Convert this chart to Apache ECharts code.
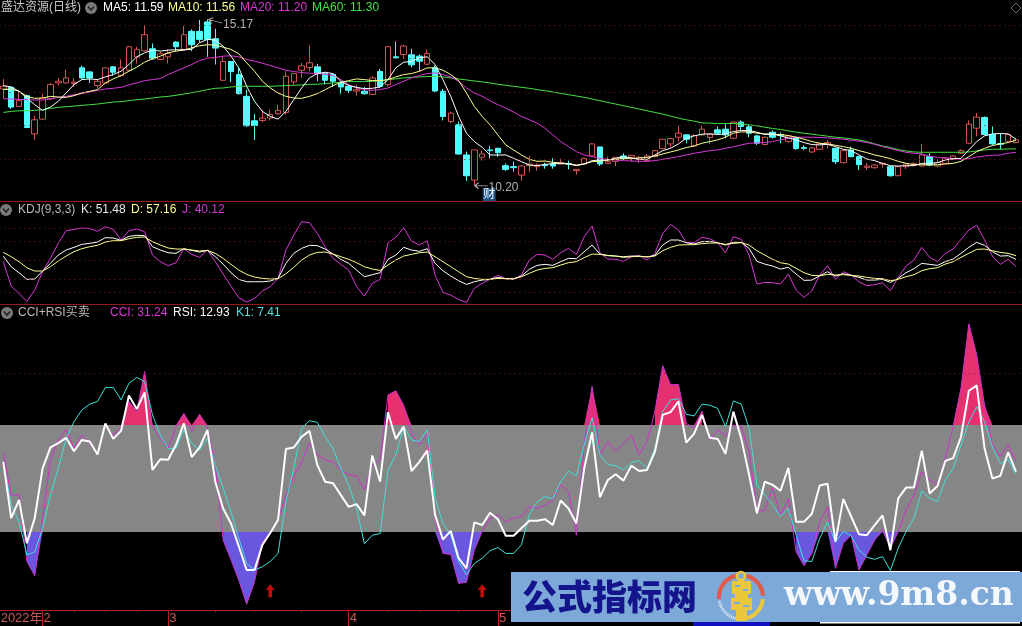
<!DOCTYPE html>
<html>
<head>
    <meta charset="utf-8"/>
    <title>盛达资源(日线)</title>
    <script src="https://cdn.jsdelivr.net/npm/echarts@6/dist/echarts.min.js"></script>
    <style>
        html,body{margin:0;padding:0;background:#000;overflow:hidden}
        #main{width:1022px;height:626px}
    </style>
</head>
<body>
<div id="main"></div>
<script type="text/javascript">
var opens = [13.09,13.14,12.57,12.89,11.75,12.19,12.80,13.27,13.27,13.25,
13.72,13.60,13.19,13.27,13.75,13.49,13.65,14.04,14.23,14.29,
13.97,14.05,14.49,14.27,14.81,14.81,15.09,14.59,13.35,13.91,
13.52,12.87,12.14,12.15,12.22,12.35,12.39,13.30,13.65,13.73,
13.75,13.55,13.52,13.27,13.17,13.03,13.02,12.93,13.61,13.22,
14.05,14.12,14.11,14.07,13.83,13.72,13.02,12.12,12.02,11.12,
10.37,11.05,11.27,11.32,10.80,10.77,10.52,10.80,10.77,10.82,
10.85,10.85,10.86,10.65,10.85,11.09,11.36,10.87,10.93,11.09,
11.05,10.99,10.95,11.07,11.31,11.45,11.65,11.72,11.39,11.72,
11.64,11.87,11.89,11.62,12.10,11.96,11.69,11.43,11.80,11.73,
11.52,11.64,11.34,11.21,11.29,11.43,11.32,10.89,11.27,11.07,
10.75,10.74,10.85,10.77,10.50,10.77,10.83,10.79,11.07,10.79,
10.87,10.99,11.17,11.47,11.92,12.24,11.73,11.46,11.53,11.49];
var closes = [13.17,12.55,12.74,11.94,12.17,12.82,13.22,13.32,13.42,13.29,
13.42,13.42,13.32,13.72,13.59,13.72,14.35,14.27,14.71,13.99,
14.14,14.15,14.35,14.71,14.41,14.57,14.57,14.31,13.91,13.61,
12.95,11.99,12.00,12.22,12.33,12.45,13.47,13.55,13.78,13.87,
13.55,13.35,13.32,13.15,13.05,13.07,12.95,13.42,13.17,14.35,
14.02,14.37,13.81,13.92,14.15,13.03,12.27,12.37,11.15,10.50,
11.27,11.15,11.25,11.19,10.69,10.74,10.79,10.85,10.82,10.80,
10.79,10.89,10.85,10.69,11.02,11.45,10.85,10.92,11.05,11.01,
11.11,11.05,11.09,11.25,11.59,11.61,11.77,11.59,11.70,11.89,
11.74,11.77,11.72,12.10,11.97,11.77,11.47,11.65,11.65,11.71,
11.69,11.31,11.32,11.33,11.45,11.49,10.92,11.25,11.07,10.83,
10.79,10.82,10.87,10.50,10.77,10.85,10.87,11.12,10.82,10.89,
11.03,11.09,11.25,12.04,12.25,11.73,11.45,11.44,11.73,11.57];
var highs = [13.39,13.17,13.02,12.92,12.29,12.95,13.27,13.42,13.67,13.42,
13.79,13.62,13.39,13.72,13.77,13.97,14.37,14.35,14.99,14.45,
14.19,14.27,14.51,14.97,14.87,15.15,15.17,14.89,14.07,13.92,
13.72,13.07,12.34,12.47,12.47,12.62,13.62,13.57,13.87,14.39,
13.84,13.57,13.55,13.32,13.22,13.22,13.15,13.47,13.69,14.37,
14.51,14.41,14.29,14.12,14.27,13.79,13.09,12.41,12.12,11.22,
11.27,11.25,11.39,11.33,10.87,10.92,10.81,11.09,10.87,10.89,
11.02,11.01,10.95,10.69,11.02,11.47,11.37,11.07,11.05,11.17,
11.12,11.09,11.15,11.27,11.60,11.63,11.99,11.74,11.74,11.99,
11.77,11.97,12.05,12.12,12.15,12.02,11.72,11.67,11.85,11.79,
11.72,11.67,11.41,11.37,11.49,11.57,11.34,11.27,11.37,11.09,
10.89,10.85,10.89,10.79,10.79,10.87,10.89,11.45,11.17,10.99,
11.05,11.11,11.29,12.15,12.37,12.27,11.97,11.77,11.75,11.61];
var lows = [12.82,12.49,12.55,11.92,11.57,12.17,12.77,13.19,13.25,13.15,
13.39,13.27,13.12,13.25,13.49,13.45,13.63,13.85,14.21,13.97,
13.95,13.85,14.22,14.25,14.22,14.49,14.05,13.82,13.33,13.29,
12.92,11.97,11.57,12.09,12.15,12.32,12.32,13.22,13.42,13.62,
13.32,13.22,13.15,12.95,12.97,12.89,12.92,12.91,13.12,13.17,
13.99,13.99,13.73,13.62,13.81,12.99,12.15,12.07,11.12,10.35,
10.20,10.95,11.02,11.07,10.64,10.62,10.35,10.61,10.65,10.71,
10.71,10.83,10.69,10.53,10.82,11.07,10.79,10.85,10.79,10.97,
10.92,10.89,10.91,11.05,11.29,11.35,11.52,11.47,11.37,11.70,
11.44,11.75,11.62,11.60,11.85,11.65,11.42,11.41,11.61,11.47,
11.49,11.27,11.27,11.19,11.27,11.32,10.85,10.87,11.05,10.67,
10.67,10.71,10.74,10.47,10.49,10.70,10.79,10.77,10.79,10.75,
10.85,10.97,11.15,11.45,11.67,11.71,11.42,11.29,11.49,11.47];

var ma5 = [13.19,13.15,13.02,12.82,12.62,12.45,12.55,12.72,12.97,13.22,13.37,13.39,13.37,13.45,13.52,13.62,13.82,14.05,14.17,14.25,14.22,14.25,14.26,14.26,14.27,14.47,14.57,14.55,14.37,14.07,13.72,13.17,12.72,12.42,12.27,12.19,12.42,12.77,13.12,13.42,13.55,13.59,13.55,
13.32,13.19,13.14,13.10,13.11,13.15,13.37,13.72,13.89,13.91,14.02,14.05,13.82,13.37,12.87,12.27,11.77,11.52,11.35,11.12,11.12,11.12,11.02,10.92,10.82,10.80,10.84,10.86,10.87,10.85,10.80,10.85,10.95,10.97,10.97,11.02,11.07,11.03,10.99,10.99,11.12,11.25,11.32,11.45,
11.62,11.69,11.74,11.75,11.73,11.75,11.82,11.85,11.85,11.80,11.73,11.75,11.69,11.63,11.57,11.49,11.43,11.42,11.44,11.37,11.29,11.25,11.12,11.00,10.95,10.87,10.80,10.79,10.80,10.80,10.87,10.87,10.89,10.97,11.01,11.02,11.27,11.52,11.69,11.75,11.76,11.75,11.59];
var ma10 = [13.07,13.09,13.02,12.87,12.81,12.82,12.87,12.85,12.84,12.89,12.97,13.02,13.07,13.27,13.39,13.49,13.62,13.74,13.89,13.99,14.07,14.17,14.22,14.25,14.32,14.38,14.41,14.40,14.34,14.27,14.14,13.87,13.62,13.32,13.12,12.97,12.87,12.82,12.81,12.87,12.95,13.07,13.19,
13.29,13.34,13.39,13.37,13.34,13.34,13.37,13.45,13.52,13.55,13.62,13.72,13.72,13.65,13.52,13.34,12.97,12.57,12.27,12.02,11.72,11.42,11.27,11.12,10.99,10.93,10.94,10.90,10.88,10.86,10.82,10.85,10.92,10.93,10.97,10.99,11.01,11.01,11.03,11.05,11.09,11.15,11.21,11.27,
11.34,11.39,11.47,11.52,11.57,11.65,11.77,11.81,11.81,11.77,11.75,11.74,11.73,11.70,11.65,11.59,11.52,11.47,11.45,11.41,11.37,11.32,11.25,11.19,11.12,11.07,11.01,10.93,10.87,10.83,10.83,10.82,10.83,10.85,10.87,10.93,11.07,11.22,11.32,11.40,11.45,11.49,11.56];
var ma20 = [12.80,12.79,12.78,12.77,12.76,12.76,12.79,12.84,12.87,12.92,12.95,13.00,13.05,13.09,13.11,13.14,13.21,13.27,13.34,13.37,13.40,13.52,13.62,13.72,13.82,13.94,14.01,14.03,14.07,14.08,14.05,13.97,13.92,13.86,13.79,13.72,13.65,13.61,13.58,13.56,13.55,13.53,13.49,
13.37,13.22,13.12,13.07,13.05,13.07,13.12,13.22,13.32,13.42,13.49,13.55,13.57,13.52,13.45,13.32,13.12,12.97,12.87,12.74,12.62,12.52,12.40,12.27,12.17,12.07,11.92,11.72,11.52,11.37,11.22,11.12,11.07,11.02,10.99,10.97,10.95,10.94,10.93,10.93,10.95,10.99,11.03,11.07,
11.12,11.17,11.21,11.25,11.27,11.32,11.36,11.42,11.47,11.48,11.49,11.52,11.57,11.62,11.65,11.65,11.65,11.64,11.63,11.61,11.59,11.56,11.53,11.49,11.44,11.37,11.31,11.25,11.20,11.17,11.15,11.08,11.05,11.03,11.01,10.99,11.01,11.06,11.09,11.11,11.12,11.17,11.20];
var ma60 = [12.39,12.42,12.44,12.44,12.45,12.47,12.51,12.54,12.56,12.58,12.60,12.62,12.64,12.67,12.70,12.71,12.74,12.77,12.79,12.82,12.85,12.87,12.90,12.94,12.98,13.02,13.07,13.11,13.12,13.15,13.17,13.17,13.17,13.17,13.17,13.18,13.19,13.20,13.21,13.23,13.23,13.25,13.27,
13.29,13.31,13.31,13.31,13.32,13.33,13.37,13.39,13.42,13.44,13.45,13.46,13.47,13.45,13.42,13.39,13.36,13.33,13.30,13.27,13.23,13.20,13.17,13.14,13.11,13.07,13.04,13.00,12.96,12.92,12.88,12.84,12.79,12.74,12.69,12.64,12.59,12.54,12.49,12.44,12.39,12.34,12.28,12.22,
12.17,12.13,12.08,12.07,12.06,12.06,12.06,12.05,12.02,11.99,11.95,11.91,11.88,11.84,11.80,11.77,11.74,11.71,11.68,11.65,11.63,11.60,11.57,11.52,11.45,11.39,11.34,11.28,11.24,11.21,11.20,11.20,11.20,11.20,11.20,11.20,11.21,11.24,11.27,11.29,11.29,11.30,11.30];

var kdjK = [56.5,40,30.7,20.4,20.9,33.3,45.2,58.1,65.9,70,74.6,76.2,78.3,85,84.5,80.8,87,88.6,88.1,71,65.9,61.7,60.7,67.9,65.3,62.7,65.3,55.5,44.1,30.7,20.4,16.7,16.7,16.7,17.8,21.9,45.2,60.7,68.4,73.1,72.6,67.4,59.6,51.4,45.2,34.8,24.5,27.6,30.7,51.4,58.1,70,65.9,63.8,67.9,45.2,33.8,25.5,18.3,12.6,16.7,19.3,20.4,23.5,21.4,20.9,
25.5,35.9,42.1,43.6,42.1,47.8,52.9,52.4,63.3,73.6,59.6,57.1,56.5,55.5,56.5,56.5,55,57.6,73.6,81.4,81.4,77.2,75.2,78.8,79.3,77.2,73.6,77.7,77.7,68.4,48.3,44.1,41,36.4,39,28.6,18.8,19.3,26,32.2,25.5,29.1,26.6,23.5,19.3,19.3,20.4,15.7,21.9,30.7,36.9,45.2,43.6,42.1,47.8,51.9,60.7,70,77.7,73.1,63.3,56.5,57.1,51.48];
var kdjD = [62.2,55.5,47.8,38.4,33.3,33.3,40,48.8,56.5,63.3,67.9,71,73.1,78.3,80.3,80.3,83.4,85.5,86,78.8,73.6,69,67.4,67.4,65.9,64.3,65.3,60.7,52.9,43.6,34.8,28.1,24,21.9,20.9,21.4,29.1,39,50.3,58.1,62.2,62.7,59.6,55.5,51.4,46.2,40,36.4,34.3,42.6,50.3,56.5,59.1,61.7,62.7,55.5,47.8,40,32.2,24.5,21.9,20.4,20.4,21.9,21.4,21.4,
24.5,29.7,34.8,37.4,38.4,42.6,46.2,47.8,54,59.6,59.1,57.6,56.5,54.5,55.5,56,55.5,56.5,64.8,70,73.6,74.1,74.1,75.7,76.7,76.7,74.6,76.2,77.2,73.6,64.8,58.1,51.4,46.2,44.1,37.4,30.7,26.6,26,28.1,27.1,27.6,26.6,25.5,23.5,21.9,21.4,18.3,20.4,24.5,27.6,33.8,36.9,38.4,44.1,47.8,54.5,60.7,66.9,67.4,64.8,62.2,60.7,57.16];
var kdjJ = [47.8,10,-1.4,-13.8,3.8,32.2,52.9,76.2,95.8,97.9,100,99.4,94.8,102,97.9,81.4,95.8,98.4,94.3,58.1,47.8,41.6,46.2,67.9,59.1,54.5,65.9,47.8,28.6,10,-8.1,-14.8,-9.1,2.3,9,21.9,65.9,89.1,109.8,108.2,91.7,71,52.9,43.6,34.8,9,-5.5,14.1,20.4,77.2,85.5,100.5,79.8,73.6,80.3,27.1,0.2,-4,-10.7,-15.3,6.4,14.1,20.4,26.6,21.4,20.9,
27.1,50.3,59.1,58.1,51.4,61.7,68.4,59.1,86.5,103.1,61.7,51.9,51.4,48.3,55.5,57,50.3,60.7,91.7,105.7,96.9,77.2,77.2,85.5,83.4,77.2,61.7,86.5,82.4,58.1,13.1,15.7,15.2,13.1,28.6,3.8,-7.6,2.8,27.1,41.6,20.4,32.2,27.1,16.7,10.5,12.1,15.2,2.8,23.5,41,50.3,70,54.5,47.8,60.7,67.4,82.4,96.9,104.1,81.4,56.5,43.6,51.4,40.12];

var cci = [47,-31,-31,-155,-182,-74,35,72,91,56,81,66,44,100,81,97,144,125,200,97,75,56,97,122,88,120,94,25,-115,-152,-190,-235,-193,-121,-100,-77,-31,3,31,66,44,35,31,
16,7,5,-21,25,35,156,164,137,84,63,84,-74,-140,-142,-196,-194,-134,-99,-74,-68,-81,-74,-71,-53,-56,-50,-40,-12,-25,-106,63,172,44,69,50,66,81,44,69,125,211,175,176,
103,94,126,72,91,80,100,97,50,-62,-59,-18,-68,-38,-137,-163,-140,-81,-53,-168,-121,-106,-171,-143,-115,-94,-130,-99,-59,-31,13,-3,-12,38,97,169,289,231,137,63,41,63,31.24];
var rsi = [31,-74,-40,-121,-74,19,58,66,76,51,72,69,45,103,74,89,155,130,161,16,36,35,63,103,40,58,91,-6,-56,-84,-127,-171,-171,-124,-102,-77,55,58,78,89,25,-6,-9,
-31,-53,-48,-69,43,-6,124,74,97,14,31,52,-68,-114,-98,-149,-168,-82,-87,-64,-76,-107,-107,-93,-79,-79,-76,-87,-41,-56,-84,19,86,-35,-3,8,-4,24,14,16,50,119,124,144,
67,84,119,76,74,46,125,75,7,-65,-6,-12,-23,20,-81,-81,-66,-13,-10,-118,-38,-71,-104,-106,-87,-69,-134,-37,-17,-17,52,-28,-14,33,38,78,164,174,56,0,5,49,12.93];
var k1 = [31,-49,-81,-143,-137,-93,-31,19,75,106,128,139,144,170,170,147,178,189,181,119,81,56,56,91,66,53,75,25,-18,-62,-112,-159,-171,-165,-155,-140,-43,19,94,108,105,78,56,
19,-12,-56,-122,-106,-103,16,44,97,72,69,91,-37,-84,-106,-155,-180,-159,-149,-135,-129,-140,-140,-124,-68,-43,-34,-38,-6,14,5,63,114,44,26,24,16,30,33,19,56,125,147,149,
120,117,139,137,131,97,145,139,94,-12,-31,-49,-71,-56,-106,-154,-155,-112,-81,-119,-99,-107,-134,-147,-151,-146,-172,-130,-99,-74,-23,-37,-43,-3,19,63,106,134,106,59,28,35,7.41];

var priceLevels = [11,12,13,14,15];
var kdjLevels = [0,20,50,80,100];
var cciLevels = [197];
var bandHigh = 100;
var bandLow = -100;

var monthIndexes = [5,21,44,63];
var monthLabels = ['2','3','4','5'];
var yearLabel = '2022年';
var minorTickIndexes = [9,13,17,27,32,38,49,53,58];

var signalIndexes = [34,61];
var signalValues = [-210,-210];

var RED = '#d25555', CYAN = '#54fcfc', WHITE = '#ffffff', YELLOW = '#ffff90', PURPLE = '#d838d8', GREEN = '#44e044';
var GRID_LINE = '#7a1a1a', CN_FONT = '"Liberation Sans","Noto Sans CJK SC",sans-serif';

// one empty slot past the last day so panels run off the window's right edge
var days = [];
for (var n = 0; n <= opens.length; n++) { days.push(n); }

var candleData = opens.map(function (o, i) {
    return [o, closes[i], lows[i], highs[i]];
});

function levelLine(levels) {
    return {
        silent: true,
        symbol: 'none',
        label: {show: false},
        lineStyle: {color: GRID_LINE, type: [1, 4], width: 1},
        data: levels.map(function (v) { return {yAxis: v}; })
    };
}

function lineSeries(data, color, gridIndex, width, z) {
    return {
        type: 'line',
        data: data,
        xAxisIndex: gridIndex,
        yAxisIndex: gridIndex,
        symbol: 'none',
        silent: true,
        z: z || 4,
        lineStyle: {color: color, width: width || 1}
    };
}

// polygons of cci beyond a level, closed along the level where the line crosses it
function beyondPolygons(api, level, sign) {
    var polygons = [], current = null;
    for (var i = 0; i < cci.length; i++) {
        var out = (cci[i] - level) * sign > 0;
        if (out) {
            if (!current) {
                current = [];
                if (i > 0) {
                    current.push(api.coord([i - 1 + (level - cci[i - 1]) / (cci[i] - cci[i - 1]), level]));
                }
            }
            current.push(api.coord([i, cci[i]]));
        } else if (current) {
            current.push(api.coord([i - 1 + (level - cci[i - 1]) / (cci[i] - cci[i - 1]), level]));
            polygons.push(current);
            current = null;
        }
    }
    return polygons;
}

function renderFill(params, api) {
    var children = [];
    beyondPolygons(api, bandHigh, 1).forEach(function (pts) {
        children.push({type: 'polygon', shape: {points: pts}, style: {fill: '#e5316f'}});
    });
    beyondPolygons(api, bandLow, -1).forEach(function (pts) {
        children.push({type: 'polygon', shape: {points: pts}, style: {fill: '#6a57e0'}});
    });
    return {type: 'group', children: children};
}

function gridAxis(gridIndex) {
    return {
        type: 'category', gridIndex: gridIndex, data: days, boundaryGap: true, position: 'bottom',
        axisLine: {onZero: false, lineStyle: {color: '#96191c', width: 1}},
        axisTick: {show: false}, axisLabel: {show: false}, splitLine: {show: false}
    };
}

function valueAxis(gridIndex, min, max) {
    return {type: 'value', gridIndex: gridIndex, min: min, max: max, show: false, splitLine: {show: false}};
}

function headerText(x, y, text, color) {
    return {
        type: 'text', x: x, y: y, z: 50,
        style: {text: text, fill: color, font: '12px ' + CN_FONT, verticalAlign: 'middle', align: 'left'}
    };
}

function menuIcon(x, y) {
    return [
        {type: 'circle', z: 50, shape: {cx: x, cy: y, r: 6}, style: {fill: '#7a7a7a'}},
        {type: 'polyline', z: 51, shape: {points: [[x - 3, y - 1.5], [x, y + 2], [x + 3, y - 1.5]]},
            style: {stroke: '#222', lineWidth: 1.5, fill: null}}
    ];
}

var watermark = [
    {type: 'rect', z: 60, shape: {x: 693, y: 622, width: 77, height: 4}, style: {fill: '#1010c0'}},
    {type: 'rect', z: 60, shape: {x: 830, y: 571, width: 190, height: 1.5}, style: {fill: '#ffffff'}},
    {type: 'rect', z: 60, shape: {x: 820, y: 622, width: 200, height: 1.5}, style: {fill: '#ffffff'}},
    {type: 'rect', z: 61, shape: {x: 511, y: 572, width: 511, height: 50}, style: {fill: '#7da9d8'}},
    {type: 'text', x: 522, y: 597, z: 62, style: {text: '公式指标网', fill: '#14148c', font: '900 35px "Noto Sans CJK SC"', verticalAlign: 'middle'}},
    {type: 'arc', z: 62, shape: {cx: 741, cy: 597, r: 22, startAngle: Math.PI * 0.97, endAngle: Math.PI * 1.42}, style: {stroke: '#df5a48', lineWidth: 4, fill: null}},
    {type: 'arc', z: 62, shape: {cx: 741, cy: 597, r: 22, startAngle: Math.PI * 1.58, endAngle: Math.PI * 1.98}, style: {stroke: '#df5a48', lineWidth: 4, fill: null}},
    {type: 'arc', z: 62, shape: {cx: 741, cy: 597, r: 22, startAngle: Math.PI * 0.03, endAngle: Math.PI * 0.45}, style: {stroke: '#eac83c', lineWidth: 4, fill: null}},
    {type: 'arc', z: 62, shape: {cx: 741, cy: 597, r: 22, startAngle: Math.PI * 0.55, endAngle: Math.PI * 0.95}, style: {stroke: '#e8eef6', lineWidth: 3, lineDash: [1, 1], fill: null}},
    {type: 'circle', z: 62, shape: {cx: 741, cy: 576, r: 4}, style: {fill: null, stroke: '#eac83c', lineWidth: 2.5}},
    {type: 'rect', z: 62, shape: {x: 732, y: 581, width: 19, height: 13}, style: {fill: '#eac83c'}},
    {type: 'rect', z: 62, shape: {x: 735, y: 594, width: 13, height: 4}, style: {fill: '#eac83c'}},
    {type: 'rect', z: 62, shape: {x: 731, y: 598, width: 21, height: 12}, style: {fill: '#eac83c'}},
    {type: 'rect', z: 62, shape: {x: 736, y: 610, width: 11, height: 11}, style: {fill: '#eac83c'}},
    {type: 'rect', z: 63, shape: {x: 735, y: 585, width: 5, height: 2}, style: {fill: '#7da9d8'}},
    {type: 'rect', z: 63, shape: {x: 743, y: 589, width: 5, height: 2}, style: {fill: '#7da9d8'}},
    {type: 'rect', z: 63, shape: {x: 734, y: 602, width: 6, height: 2}, style: {fill: '#7da9d8'}},
    {type: 'rect', z: 63, shape: {x: 743, y: 605, width: 6, height: 2}, style: {fill: '#7da9d8'}},
    {type: 'text', x: 784, y: 596, z: 62, style: {text: 'www.9m8.cn', fill: '#f4f7fb', font: 'bold 33px "DejaVu Serif"', verticalAlign: 'middle'}}
];

var graphics = [
    headerText(1, 8, '盛达资源(日线)', '#c8c8c8'),
    headerText(103, 8, 'MA5: 11.59', WHITE),
    headerText(168, 8, 'MA10: 11.56', YELLOW),
    headerText(240, 8, 'MA20: 11.20', PURPLE),
    headerText(312, 8, 'MA60: 11.30', GREEN),
    headerText(18, 210, 'KDJ(9,3,3)', '#b8b8b8'),
    headerText(81, 210, 'K: 51.48', '#e8e8e8'),
    headerText(131, 210, 'D: 57.16', YELLOW),
    headerText(182, 210, 'J: 40.12', PURPLE),
    headerText(18, 313, 'CCI+RSI买卖', '#b8b8b8'),
    headerText(110, 313, 'CCI: 31.24', PURPLE),
    headerText(173, 313, 'RSI: 12.93', WHITE),
    headerText(236, 313, 'K1: 7.41', '#50e0e0'),
    {type: 'polygon', z: 50, shape: {points: [[1016, 3], [1021, 8], [1016, 13], [1011, 8]]}, style: {fill: null, stroke: '#666', lineWidth: 1}}
].concat(menuIcon(91, 8), menuIcon(6, 210), menuIcon(7, 313), watermark);

var option = {
    animation: false,
    backgroundColor: '#000',
    grid: [
        {left: -0.6, width: 1028.35, top: 0, height: 201, outerBoundsMode: 'none'},
        {left: -0.6, width: 1028.35, top: 202, height: 102, outerBoundsMode: 'none'},
        {left: -0.6, width: 1028.35, top: 305, height: 305, outerBoundsMode: 'none'}
    ],
    xAxis: [
        gridAxis(0),
        gridAxis(1),
        {
            type: 'category', gridIndex: 2, data: days, boundaryGap: true, position: 'bottom',
            axisLine: {onZero: false, lineStyle: {color: '#b02020', width: 1}},
            axisTick: {
                show: true, alignWithLabel: true, length: 16, lineStyle: {color: '#b02020'},
                interval: function (i) { return monthIndexes.indexOf(i) >= 0; }
            },
            axisLabel: {
                color: '#c85a5a', fontSize: 13, fontFamily: CN_FONT, margin: 2, align: 'left', padding: [0, 0, 0, 1],
                interval: function (i) { return monthIndexes.indexOf(i) >= 0; },
                formatter: function (v) { return monthLabels[monthIndexes.indexOf(Number(v))]; }
            },
            splitLine: {show: false}
        },
        {
            type: 'category', gridIndex: 2, data: days, boundaryGap: true, position: 'bottom',
            axisLine: {show: false, onZero: false},
            axisTick: {
                show: true, alignWithLabel: true, length: 2, lineStyle: {color: '#b02020'},
                interval: function (i) { return minorTickIndexes.indexOf(i) >= 0; }
            },
            axisLabel: {
                color: '#c85a5a', fontSize: 13, fontFamily: CN_FONT, margin: 2, align: 'right',
                interval: function (i) { return i === monthIndexes[0]; },
                formatter: function () { return yearLabel; }
            },
            splitLine: {show: false}
        }
    ],
    yAxis: [
        valueAxis(0, 9.746, 15.746),
        valueAxis(1, -17.8, 140.3),
        valueAxis(2, -245.8, 324.3)
    ],
    graphic: {elements: graphics},
    series: [
        {
            type: 'candlestick',
            data: candleData,
            xAxisIndex: 0,
            yAxisIndex: 0,
            barWidth: 6,
            silent: true,
            z: 3,
            itemStyle: {color: 'transparent', color0: CYAN, borderColor: RED, borderColor0: CYAN, borderWidth: 1},
            markLine: levelLine(priceLevels),
            markPoint: {
                silent: true,
                data: [
                    {
                        coord: [26, 15.17], symbol: 'path://M0 3L4 0M0 3L4 6M0 3L14 3', symbolSize: [14, 6],
                        symbolOffset: [8, 2], symbolRotate: -15,
                        itemStyle: {color: 'none', borderColor: '#b0b0b0', borderWidth: 1},
                        label: {show: true, formatter: '15.17', color: '#b0b0b0', fontSize: 12, fontFamily: CN_FONT, position: 'right', distance: 1, offset: [-5, 3]}
                    },
                    {
                        coord: [60, 10.20], symbol: 'path://M0 3L4 0M0 3L4 6M0 3L14 3', symbolSize: [13, 6],
                        symbolOffset: [7, 0],
                        itemStyle: {color: 'none', borderColor: '#b0b0b0', borderWidth: 1},
                        label: {show: true, formatter: '10.20', color: '#b0b0b0', fontSize: 12, fontFamily: CN_FONT, position: 'right', distance: 0, offset: [-3, 2]}
                    },
                    {
                        coord: [61, 9.94], symbol: 'rect', symbolSize: [13, 13], symbolOffset: [7, 0], z: 10,
                        itemStyle: {color: '#1d4f80'},
                        label: {show: true, formatter: '财', color: '#fff', fontSize: 12, fontFamily: CN_FONT, position: 'inside'}
                    }
                ]
            }
        },
        lineSeries(ma60, GREEN, 0),
        lineSeries(ma20, PURPLE, 0),
        lineSeries(ma10, YELLOW, 0),
        lineSeries(ma5, WHITE, 0),

        Object.assign(lineSeries(kdjJ, PURPLE, 1), {markLine: levelLine(kdjLevels)}),
        lineSeries(kdjK, WHITE, 1),
        lineSeries(kdjD, YELLOW, 1),

        {
            type: 'custom',
            xAxisIndex: 2,
            yAxisIndex: 2,
            data: [[0, 0]],
            silent: true,
            z: 2,
            renderItem: renderFill
        },
        Object.assign(lineSeries(cci, '#d030d0', 2, 1, 3), {
            markLine: levelLine(cciLevels),
            markArea: {
                silent: true,
                itemStyle: {color: '#868686'},
                data: [[{yAxis: bandHigh}, {yAxis: bandLow}]]
            }
        }),
        lineSeries(k1, '#40e0d8', 2, 1, 4),
        lineSeries(rsi, WHITE, 2, 2, 5),
        {
            type: 'scatter',
            xAxisIndex: 2,
            yAxisIndex: 2,
            silent: true,
            z: 6,
            symbol: 'path://M5 0L10 6H7V14H3V6H0Z',
            symbolSize: [9, 13],
            itemStyle: {color: '#f01010'},
            data: signalIndexes.map(function (idx, i) { return [idx, signalValues[i]]; })
        }
    ]
};

var chart = echarts.init(document.getElementById('main'));
chart.setOption(option);
</script>
</body>
</html>
